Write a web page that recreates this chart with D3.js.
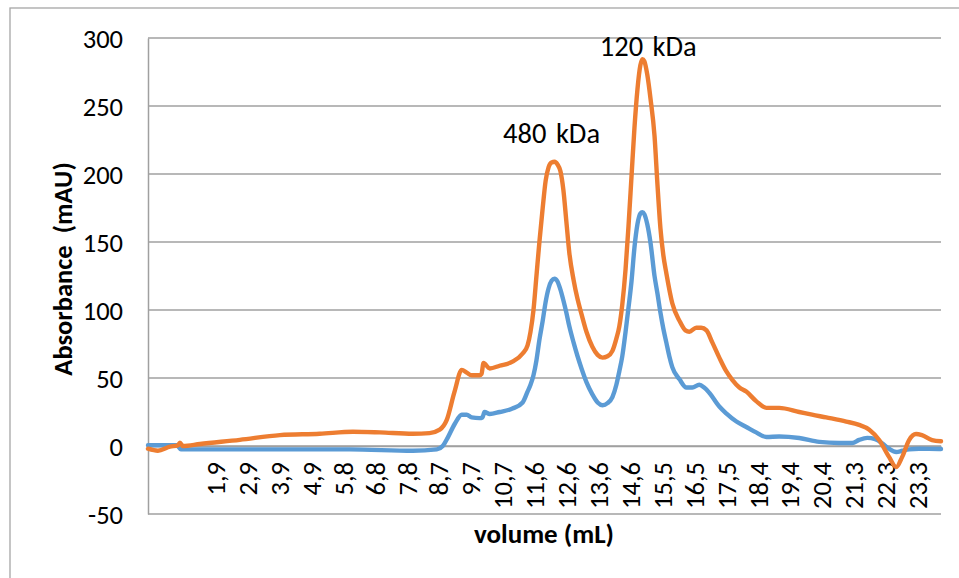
<!DOCTYPE html>
<html>
<head>
<meta charset="utf-8">
<script src="https://cdn.jsdelivr.net/npm/d3@7/dist/d3.min.js"></script>
<style>
  html, body { margin: 0; padding: 0; background: #ffffff; }
  svg { display: block; }
  text { font-family: Carlito, Calibri, Lato, "Open Sans", sans-serif; fill: #000; }
</style>
</head>
<body>
<svg id="chart" width="959" height="578"></svg>
<script>
// ---------- data ----------
const orangeVolume = [-0.09,0.21,0.58,0.82,0.88,0.97,1.49,2.70,3.92,5.13,6.14,6.96,7.96,8.47,8.78,8.99,9.23,9.45,9.60,9.75,9.99,10.05,10.11,10.30,10.60,10.99,11.30,11.45,11.54,11.63,11.72,11.81,11.91,12.00,12.09,12.18,12.27,12.36,12.45,12.54,12.63,12.72,12.85,12.97,13.09,13.24,13.42,13.58,13.73,13.88,14.03,14.15,14.24,14.33,14.43,14.52,14.61,14.70,14.79,14.88,14.94,15.00,15.09,15.19,15.31,15.40,15.49,15.58,15.67,15.85,16.07,16.25,16.37,16.58,16.73,16.89,17.07,17.28,17.49,17.68,17.89,18.10,18.40,18.71,19.10,19.71,20.10,20.53,21.14,21.53,21.84,22.14,22.44,22.66,22.84,23.05,23.26,23.44,23.75,24.02];
const orangeValue  = [-2,-3.5,-0.5,0.5,2.5,0,1.5,4.5,8,9,10.5,10,9,9.5,12,19,40,56,54,52,52,53,61,57,59,62,68,74,84,100,125,150,175,195,205,208.5,209,207,202,188,165,142,122,108,97,84,73,67,65,66,70,79,88,104,130,162,198,234,262,280,284.5,283,273,255,228,192,160,140,127,105,92,85,84,87,87,85,76,65,55,48.5,43,40,33,28,28,25,23,21,18,15.5,12,4.4,-8,-15.5,-8,4.4,8.8,8,4.4,3.5];

const blueVolume = [-0.09,0.43,0.79,0.91,1.49,3.92,6.04,7.96,8.69,8.87,9.02,9.23,9.45,9.60,9.75,9.99,10.08,10.14,10.30,10.60,10.99,11.30,11.45,11.54,11.63,11.72,11.81,11.91,12.00,12.09,12.18,12.27,12.36,12.45,12.54,12.63,12.72,12.85,12.97,13.09,13.24,13.42,13.58,13.73,13.88,14.03,14.15,14.24,14.33,14.43,14.52,14.61,14.70,14.79,14.88,14.94,15.00,15.09,15.19,15.31,15.40,15.49,15.58,15.67,15.76,15.85,16.07,16.28,16.46,16.67,16.82,16.98,17.28,17.49,17.80,18.10,18.40,18.71,19.10,19.71,20.32,20.92,21.32,21.53,21.78,22.02,22.23,22.44,22.66,22.84,23.05,23.35,23.96,24.02];
const blueValue  = [0.5,0.5,0.5,-2.5,-2.5,-2.5,-2.5,-3.5,-2.5,0,6,16,23,23,21,20.5,21,25,23.5,25,27.5,32,40,45,52,63,78,92,106,116,121.5,123,121,115,107,98,88,76,66,57,47,38,32,30,31.5,36,45,55,66,84,102,121,146,163,171,172,170.5,163,149,125,112,98,86,76,66,58,49,43,43,45,43,39,29,24,18,14,10,6.6,7,5.9,3,2.2,2.2,4.5,6,5,2,-2,-4.4,-3.5,-2.5,-2,-2.2,-2.2];

const xTickValues = [1.94,2.91,3.88,4.86,5.83,6.80,7.77,8.74,9.71,10.68,11.65,12.62,13.59,14.56,15.53,16.50,17.47,18.44,19.41,20.38,21.35,22.32,23.29];
const xTickLabels = ["1,9","2,9","3,9","4,9","5,8","6,8","7,8","8,7","9,7","10,7","11,6","12,6","13,6","14,6","15,5","16,5","17,5","18,4","19,4","20,4","21,3","22,3","23,3"];
const yTickValues = [-50,0,50,100,150,200,250,300];
const yTickLabels = ["-50","0","50","100","150","200","250","300"];

const annotationText   = ["480 kDa","120 kDa"];
const annotationVolume = [12.18, 15.12];
const annotationValue  = [222.7, 286.6];

const seriesColors = ["#5B9BD5", "#ED7D31"];

// ---------- layout ----------
const svg = d3.select("#chart");
const W = 959, H = 578;
const plot = {left: 148, right: 941, top: 38, bottom: 514};
const FONT = "Carlito, Calibri, Lato, sans-serif";

const x = d3.scaleLinear().domain([-0.09, 24.02]).range([plot.left, plot.right]);
const y = d3.scaleLinear().domain([-50, 300]).range([plot.bottom, plot.top]);

// outer chart border
svg.append("rect")
  .attr("x", 10).attr("y", 8).attr("width", W + 20).attr("height", H + 20)
  .attr("fill", "none").attr("stroke", "#a6a6a6").attr("stroke-width", 1.3);

// gridlines
svg.append("g").selectAll("line").data(yTickValues).join("line")
  .attr("x1", plot.left).attr("x2", plot.right)
  .attr("y1", d => y(d)).attr("y2", d => y(d))
  .attr("stroke", "#a0a0a0").attr("stroke-width", 1.5);

// y axis
const yAxis = svg.append("g").attr("transform", `translate(${plot.left},0)`)
  .call(d3.axisLeft(y).tickValues(yTickValues).tickSize(0).tickSizeOuter(0).tickPadding(25)
    .tickFormat((d, i) => yTickLabels[i]));
yAxis.select(".domain").attr("stroke", "#a0a0a0").attr("stroke-width", 1.5);
yAxis.selectAll("text").style("font-size", "26.5px").attr("dy", "0.36em").style("font-family", FONT);

// x axis (category labels at zero line)
const xAxis = svg.append("g").attr("transform", `translate(0,${y(0)})`)
  .call(d3.axisBottom(x).tickValues(xTickValues).tickFormat((d, i) => xTickLabels[i]).tickSize(0).tickSizeOuter(0));
xAxis.select(".domain").attr("stroke", "#a0a0a0").attr("stroke-width", 1.5);
xAxis.selectAll("text")
  .style("font-size", "26.5px")
  .style("font-family", FONT)
  .attr("text-anchor", "end")
  .attr("transform", "rotate(-90)")
  .attr("x", -16).attr("y", 0).attr("dy", "0.36em");

// lines
const line = d3.line().x(d => x(d[0])).y(d => y(d[1])).curve(d3.curveMonotoneX);
const blue = blueVolume.map((v, i) => [v, blueValue[i]]);
const orange = orangeVolume.map((v, i) => [v, orangeValue[i]]);
[blue, orange].forEach((s, i) => {
  svg.append("path").datum(s)
    .attr("d", line)
    .attr("fill", "none")
    .attr("stroke", seriesColors[i])
    .attr("stroke-width", 4.4)
    .attr("stroke-linejoin", "round")
    .attr("stroke-linecap", "round");
});

// annotations
svg.append("g").selectAll("text").data(annotationText).join("text")
  .attr("x", (d, i) => x(annotationVolume[i]))
  .attr("y", (d, i) => y(annotationValue[i]))
  .attr("text-anchor", "middle")
  .style("font-size", "28.5px")
  .style("word-spacing", "3px")
  .text(d => d);

// axis titles
svg.append("text")
  .attr("x", 544).attr("y", 543)
  .attr("text-anchor", "middle")
  .style("font-size", "27px").style("font-weight", "bold")
  .text("volume (mL)");

svg.append("text")
  .attr("transform", `translate(72,269) rotate(-90)`)
  .attr("text-anchor", "middle")
  .style("font-size", "26.5px").style("font-weight", "bold")
  .style("white-space", "pre")
  .text("Absorbance  (mAU)");
</script>
</body>
</html>
